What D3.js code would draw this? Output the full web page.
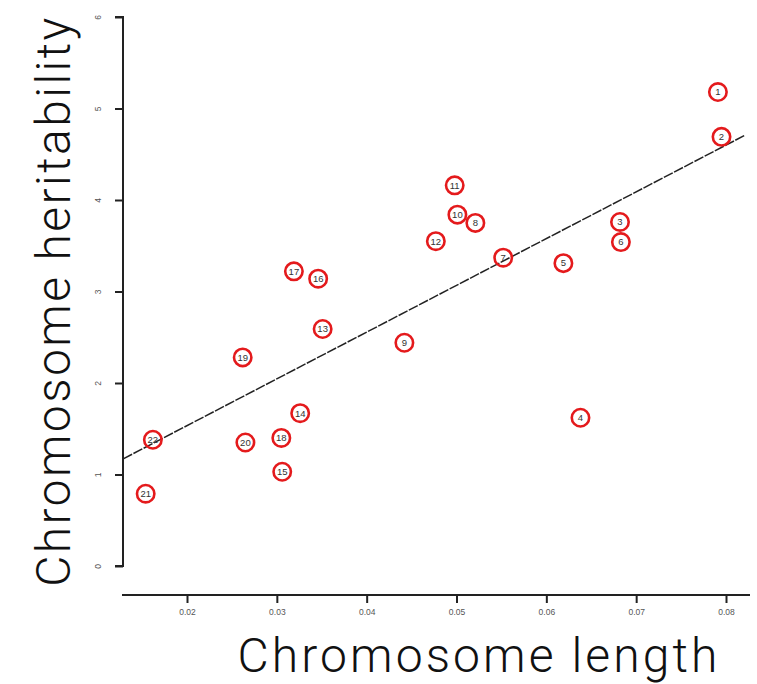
<!DOCTYPE html>
<html>
<head>
<meta charset="utf-8">
<script src="https://cdn.jsdelivr.net/npm/d3@7"></script>
<style>
  body { margin: 0; background: #fff; }
  svg { display: block; }
</style>
</head>
<body>
<div id="vis"></div>
<script>
(function() {
    var width = 757,
        height = 684;

    // chromosome number, length, heritability
    var chromosomes = [1, 2, 3, 4, 5, 6, 7, 8, 9, 10, 11, 12, 13, 14, 15, 16, 17, 18, 19, 20, 21, 22];
    var lengths = [0.0791, 0.0795, 0.0682, 0.0638, 0.0619, 0.0683, 0.0552, 0.0521, 0.0442, 0.0501, 0.0498,
                   0.0477, 0.0351, 0.0326, 0.0306, 0.0346, 0.0319, 0.0305, 0.0262, 0.0265, 0.0154, 0.0162];
    var heritability = [5.18, 4.69, 3.76, 1.62, 3.31, 3.54, 3.37, 3.75, 2.44, 3.84, 4.16,
                        3.55, 2.59, 1.67, 1.03, 3.14, 3.22, 1.40, 2.28, 1.35, 0.79, 1.38];

    var xTicks = [0.02, 0.03, 0.04, 0.05, 0.06, 0.07, 0.08];
    var yTicks = [0, 1, 2, 3, 4, 5, 6];

    // fitted line: heritability = intercept + slope * length
    var fitSlope = 51.1,
        fitIntercept = 0.512,
        fitRange = [0.0129, 0.0821];

    var data = chromosomes.map(function(c, i) {
        return { chr: c, len: lengths[i], her: heritability[i] };
    });

    var x = d3.scaleLinear().domain([0.02, 0.08]).range([187, 726]);
    var y = d3.scaleLinear().domain([0, 6]).range([566, 17]);

    var svg = d3.select("#vis")
        .append("svg")
        .attr("width", width)
        .attr("height", height);

    // y axis (R style, ticks only over the tick range)
    var yAxis = svg.append("g")
        .attr("transform", "translate(123,0)")
        .call(d3.axisLeft(y).tickValues(yTicks).tickSize(8).tickPadding(14).tickFormat(d3.format("d")));
    yAxis.select(".domain").attr("d", "M-8," + y(0) + "H0V" + y(6) + "H-8").attr("fill", "none")
        .attr("stroke", "#222").attr("stroke-width", 2);
    yAxis.selectAll(".tick line").attr("stroke", "#222").attr("stroke-width", 2);
    yAxis.selectAll(".tick text")
        .attr("fill", "#555")
        .style("font-family", "Liberation Sans, Arial, sans-serif")
        .style("font-size", "8.5px")
        .attr("text-anchor", "middle")
        .attr("dy", null)
        .attr("transform", function() { return "translate(" + d3.select(this).attr("x") + ",0) rotate(-90)"; })
        .attr("x", 0)
        .attr("y", 0);

    // x axis
    var xAxis = svg.append("g")
        .attr("transform", "translate(0,595)")
        .call(d3.axisBottom(x).tickValues(xTicks).tickSize(8).tickPadding(6).tickFormat(d3.format(".2f")));
    xAxis.select(".domain").attr("d", "M122,0H750").attr("stroke", "#222").attr("stroke-width", 2);
    xAxis.selectAll(".tick line").attr("stroke", "#222").attr("stroke-width", 2);
    xAxis.selectAll(".tick text")
        .attr("fill", "#555")
        .style("font-family", "Liberation Sans, Arial, sans-serif")
        .style("font-size", "8.5px");

    // regression line
    svg.append("line")
        .attr("x1", x(fitRange[0]))
        .attr("y1", y(fitIntercept + fitSlope * fitRange[0]))
        .attr("x2", x(fitRange[1]))
        .attr("y2", y(fitIntercept + fitSlope * fitRange[1]))
        .attr("stroke", "#222")
        .attr("stroke-width", 1.5)
        .attr("stroke-dasharray", "10,1.5");

    // chromosome markers
    var pts = svg.selectAll(".chr")
        .data(data)
        .enter().append("g")
        .attr("class", "chr")
        .attr("transform", function(d) { return "translate(" + x(d.len) + "," + y(d.her) + ")"; });

    pts.append("circle")
        .attr("r", 8.7)
        .attr("fill", "none")
        .attr("stroke", "#e41a1c")
        .attr("stroke-width", 2.6);

    pts.append("text")
        .attr("text-anchor", "middle")
        .attr("dy", "0.35em")
        .attr("fill", "#333")
        .style("font-family", "Liberation Sans, Arial, sans-serif")
        .style("font-size", "9.5px")
        .text(function(d) { return d.chr; });

    // axis titles
    svg.append("text")
        .attr("x", 479)
        .attr("y", 672)
        .attr("text-anchor", "middle")
        .attr("fill", "#111")
        .style("font-family", "Roboto, sans-serif")
        .style("font-weight", 300)
        .style("font-size", "48px")
        .style("letter-spacing", "3.1px")
        .text("Chromosome length");

    svg.append("text")
        .attr("transform", "translate(70,301) rotate(-90)")
        .attr("text-anchor", "middle")
        .attr("fill", "#111")
        .style("font-family", "Roboto, sans-serif")
        .style("font-weight", 300)
        .style("font-size", "48px")
        .style("letter-spacing", "2.4px")
        .text("Chromosome heritability");
}) ();
</script>
</body>
</html>
